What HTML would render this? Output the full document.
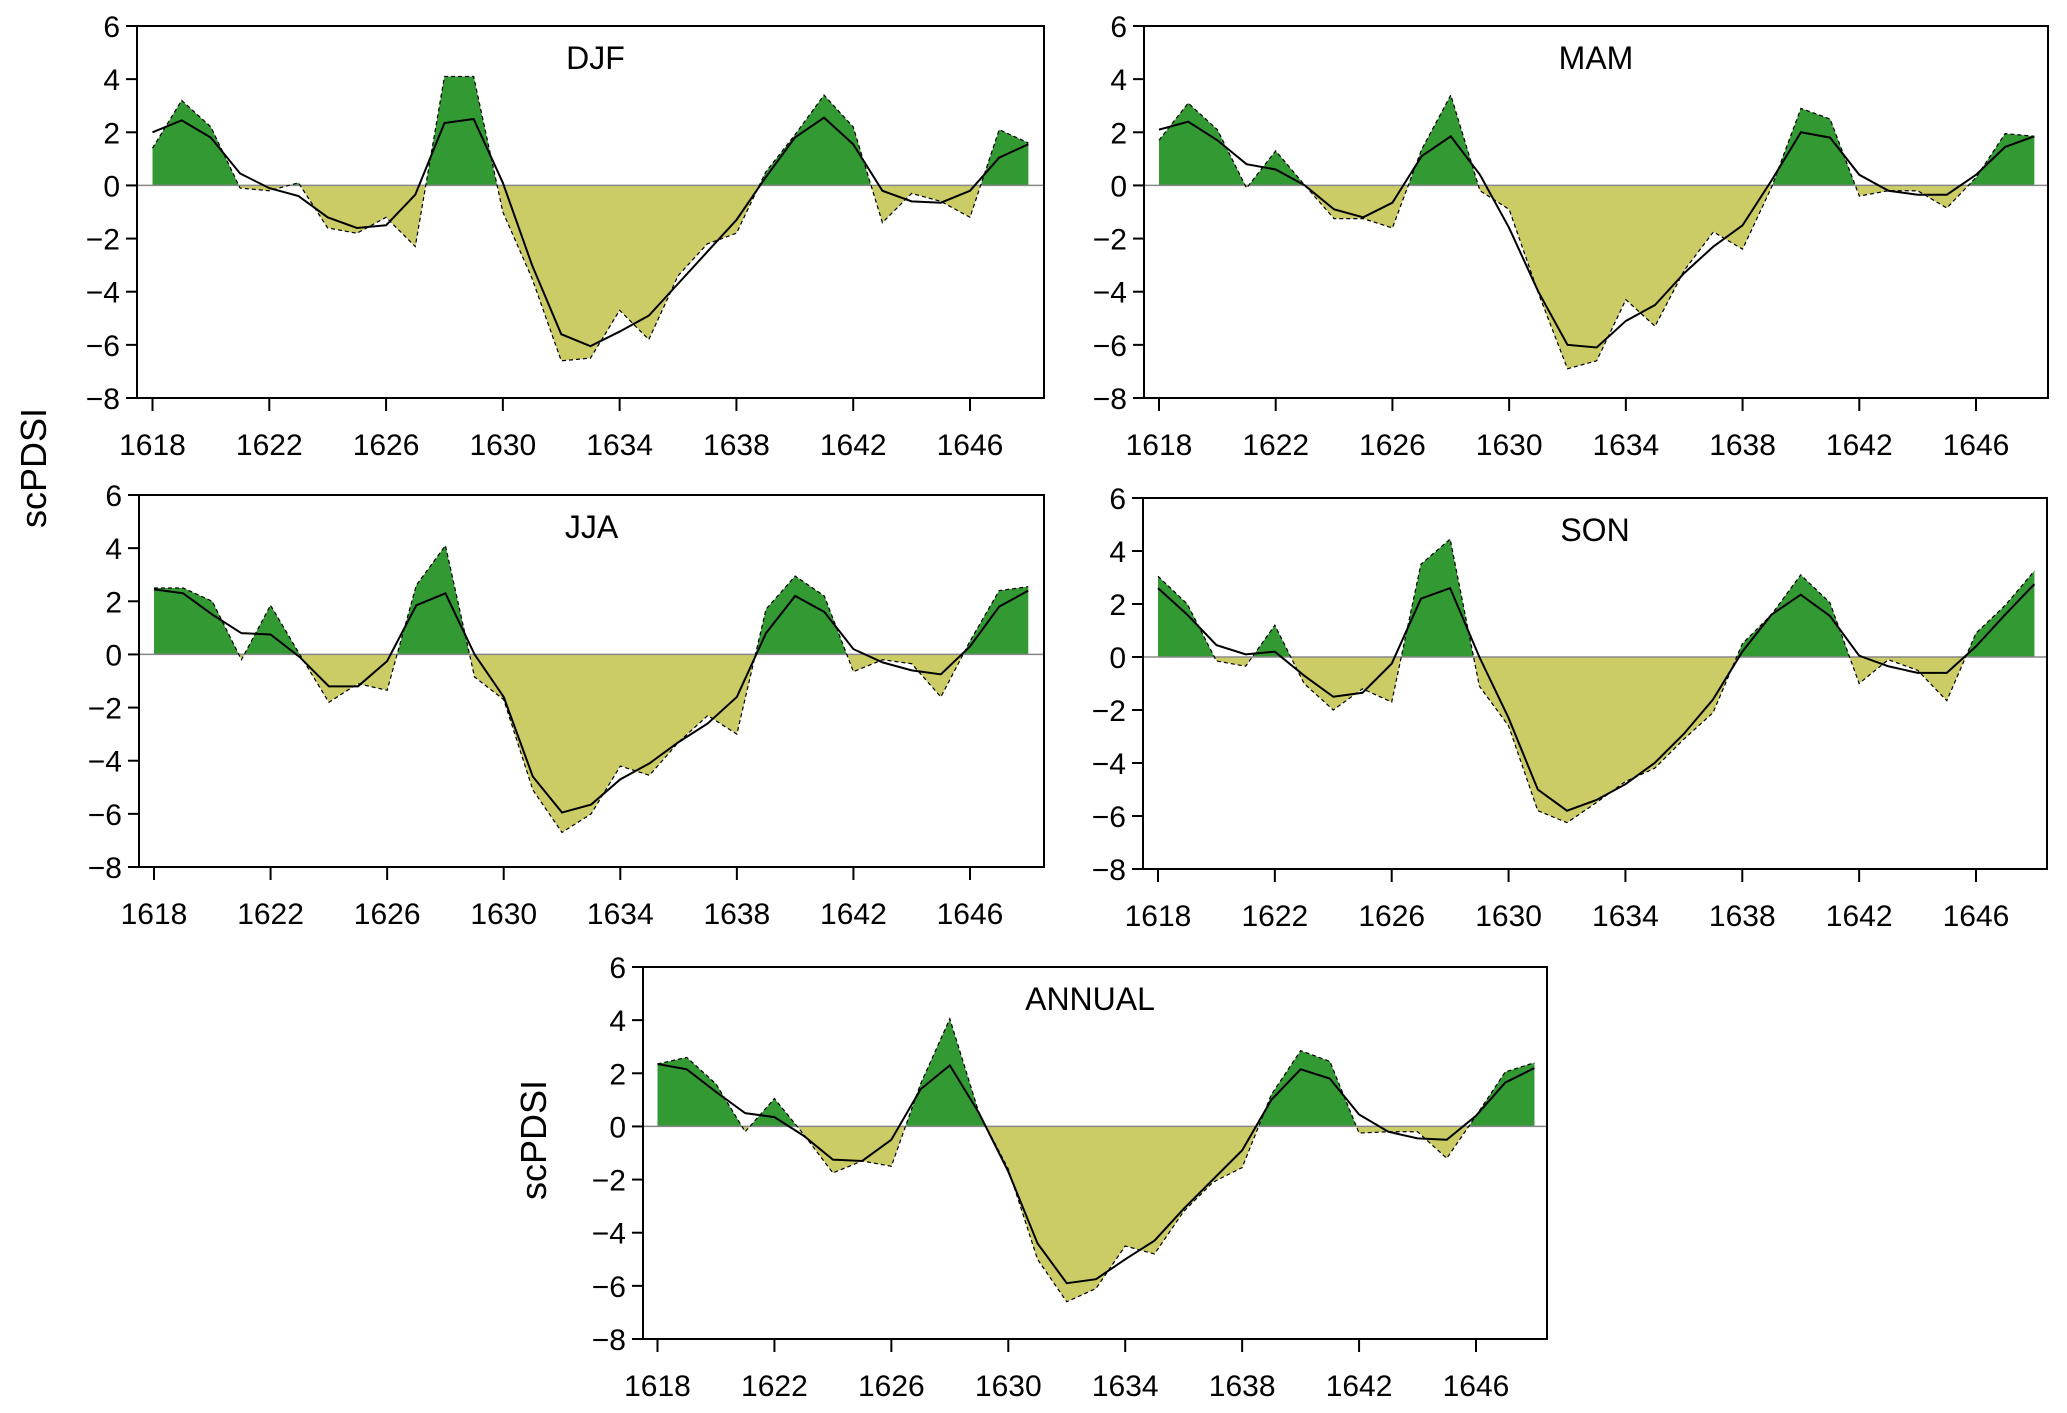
<!DOCTYPE html>
<html><head><meta charset="utf-8"><style>
html,body{margin:0;padding:0;background:#fff;}
svg{display:block;}
text{font-family:"Liberation Sans Narrow","Liberation Sans",sans-serif;fill:#000;}
text.ylab{font-family:"Liberation Sans",sans-serif;}
</style></head><body>
<svg id="fig" width="2067" height="1413" viewBox="0 0 2067 1413" xmlns="http://www.w3.org/2000/svg">
<text class="ylab" x="0" y="0" font-size="36" text-anchor="middle" transform="translate(46,468) rotate(-90)">scPDSI</text>
<text class="ylab" x="0" y="0" font-size="36" text-anchor="middle" transform="translate(546,1140) rotate(-90)">scPDSI</text>
</svg>
<script>
const years = [];
for (let y = 1618; y <= 1648; y++) years.push(y);
const xTickLabels = [1618, 1622, 1626, 1630, 1634, 1638, 1642, 1646];
const yTickLabels = [6, 4, 2, 0, -2, -4, -6, -8];

const djfRecon = [1.4,3.2,2.2,-0.1,-0.2,0.1,-1.6,-1.8,-1.2,-2.3,4.1,4.1,-1.0,-3.5,-6.6,-6.5,-4.7,-5.8,-3.4,-2.2,-1.8,0.5,1.9,3.4,2.2,-1.4,-0.3,-0.6,-1.2,2.1,1.6];
const djfSmooth = [2.0,2.45,1.8,0.45,-0.1,-0.4,-1.2,-1.6,-1.5,-0.35,2.35,2.5,0.1,-3.0,-5.6,-6.05,-5.5,-4.9,-3.7,-2.5,-1.3,0.3,1.8,2.55,1.55,-0.2,-0.6,-0.65,-0.2,1.05,1.55];
const mamRecon = [1.7,3.1,2.1,-0.1,1.3,0.0,-1.25,-1.25,-1.6,1.35,3.4,-0.2,-0.9,-4.05,-6.9,-6.6,-4.3,-5.3,-3.2,-1.75,-2.4,-0.05,2.9,2.5,-0.4,-0.2,-0.2,-0.85,0.3,1.95,1.85];
const mamSmooth = [2.1,2.4,1.7,0.8,0.6,0.0,-0.9,-1.2,-0.65,1.1,1.85,0.4,-1.6,-4.0,-6.0,-6.1,-5.1,-4.5,-3.3,-2.3,-1.5,0.2,2.0,1.8,0.4,-0.2,-0.35,-0.35,0.4,1.45,1.85];
const jjaRecon = [2.5,2.5,2.0,-0.2,1.85,0.0,-1.8,-1.1,-1.35,2.6,4.1,-0.85,-1.7,-5.1,-6.7,-6.0,-4.2,-4.55,-3.3,-2.3,-3.0,1.7,2.95,2.2,-0.65,-0.2,-0.35,-1.6,0.5,2.4,2.55];
const jjaSmooth = [2.45,2.3,1.5,0.8,0.75,-0.1,-1.2,-1.2,-0.25,1.85,2.3,0.0,-1.6,-4.6,-5.95,-5.65,-4.7,-4.1,-3.3,-2.6,-1.6,0.8,2.2,1.6,0.2,-0.3,-0.6,-0.75,0.3,1.8,2.4];
const sonRecon = [3.05,2.0,-0.15,-0.35,1.2,-1.0,-2.0,-1.2,-1.7,3.5,4.45,-1.1,-2.6,-5.8,-6.25,-5.5,-4.7,-4.2,-3.1,-2.1,0.5,1.6,3.1,2.05,-1.0,-0.1,-0.5,-1.65,0.9,1.95,3.25];
const sonSmooth = [2.6,1.6,0.45,0.1,0.2,-0.7,-1.5,-1.35,-0.25,2.2,2.6,0.0,-2.3,-5.0,-5.8,-5.4,-4.8,-4.0,-2.9,-1.6,0.2,1.6,2.35,1.55,0.05,-0.35,-0.6,-0.6,0.4,1.6,2.75];
const annRecon = [2.35,2.6,1.6,-0.2,1.05,-0.3,-1.75,-1.3,-1.5,1.6,4.05,0.5,-1.6,-5.0,-6.6,-6.1,-4.5,-4.8,-3.2,-2.1,-1.55,1.2,2.85,2.45,-0.25,-0.2,-0.2,-1.2,0.4,2.05,2.4];
const annSmooth = [2.35,2.15,1.3,0.5,0.35,-0.35,-1.25,-1.3,-0.5,1.4,2.3,0.5,-1.7,-4.4,-5.9,-5.75,-5.0,-4.3,-3.1,-2.0,-0.9,1.0,2.15,1.8,0.45,-0.2,-0.45,-0.5,0.4,1.65,2.2];

const panels = [
 {id:'djf', title:'DJF', recon:djfRecon, smooth:djfSmooth, L:137,R:1044,T:26,B:398,x0:152.5,x1:970},
 {id:'mam', title:'MAM', recon:mamRecon, smooth:mamSmooth, L:1144,R:2048,T:26,B:398,x0:1159,x1:1976},
 {id:'jja', title:'JJA', recon:jjaRecon, smooth:jjaSmooth, L:139,R:1044,T:495,B:867,x0:154,x1:970},
 {id:'son', title:'SON', recon:sonRecon, smooth:sonSmooth, L:1143,R:2047,T:498,B:869,x0:1158,x1:1976},
 {id:'annual', title:'ANNUAL', recon:annRecon, smooth:annSmooth, L:643,R:1547,T:967,B:1339,x0:657.5,x1:1476}
];
const NS='http://www.w3.org/2000/svg';
const svg=document.getElementById('fig');
function mk(tag, attrs, parent){const e=document.createElementNS(NS,tag);for(const k in attrs)e.setAttribute(k,attrs[k]);(parent||svg).appendChild(e);return e;}

panels.forEach(p=>{
 const g=mk('g',{});
 
 
 const xs=v=>p.x0+(v-1618)*(p.x1-p.x0)/28;
 const ys=v=>p.T+(6-v)*(p.B-p.T)/14;
 const z=ys(0);
 const defs=mk('defs',{},g);
 const cu=mk('clipPath',{id:p.id+'-up'},defs); mk('rect',{x:p.L,y:p.T,width:p.R-p.L,height:z-p.T},cu);
 const cd=mk('clipPath',{id:p.id+'-dn'},defs); mk('rect',{x:p.L,y:z,width:p.R-p.L,height:p.B-z},cd);
 let pts=p.recon.map((v,i)=>xs(years[i])+','+ys(v)).join(' ');
 const poly=xs(years[0])+','+z+' '+pts+' '+xs(years[years.length-1])+','+z;
 const up=mk('polygon',{points:poly,fill:'#339933','clip-path':'url(#'+p.id+'-up)'},g);
 
 
 const dn=mk('polygon',{points:poly,fill:'#cccc66','clip-path':'url(#'+p.id+'-dn)'},g);
 
 
 const zl=mk('line',{x1:p.L,x2:p.R,y1:z,y2:z,stroke:'#888','stroke-width':1.5},g);
 
 
 const dl=mk('polyline',{points:pts,fill:'none',stroke:'#000','stroke-width':1.2,'stroke-dasharray':'4,3'},g);
 
 
 const sp=p.smooth.map((v,i)=>xs(years[i])+','+ys(v)).join(' ');
 const sl=mk('polyline',{points:sp,fill:'none',stroke:'#000','stroke-width':2},g);
 
 
 const fr=mk('rect',{x:p.L,y:p.T,width:p.R-p.L,height:p.B-p.T,fill:'none',stroke:'#000','stroke-width':2},g);
 
 
 yTickLabels.forEach(v=>{
  mk('line',{x1:p.L-11,x2:p.L,y1:ys(v),y2:ys(v),stroke:'#000','stroke-width':2},g);
  const t=mk('text',{x:p.L-17,y:ys(v)+11,'font-size':30,'text-anchor':'end'},g);
  t.textContent=(v<0?'\u2212'+(-v):v);
  
  
 });
 xTickLabels.forEach(v=>{
  mk('line',{x1:xs(v),x2:xs(v),y1:p.B,y2:p.B+13,stroke:'#000','stroke-width':2},g);
  const t=mk('text',{x:xs(v),y:p.B+57,'font-size':30,'text-anchor':'middle'},g);
  t.textContent=v;
  
  
 });
 const tt=mk('text',{x:(p.L+p.R)/2+(p.id==='annual'?-5:0)-(p.id==='djf'?-5:0),y:p.T+43,'font-size':32,'text-anchor':'middle'},g);
 tt.textContent=p.title;
 
 
});
</script>
</body></html>
